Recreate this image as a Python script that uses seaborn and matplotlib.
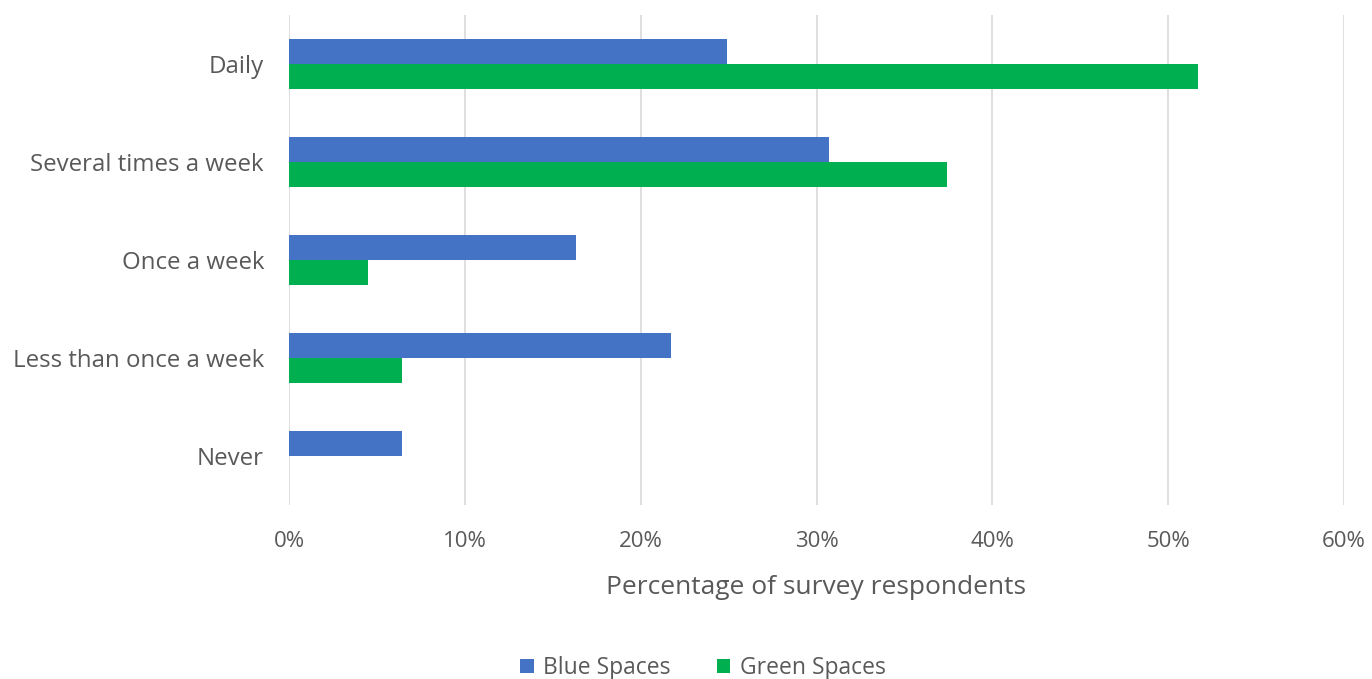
import matplotlib
matplotlib.use("Agg")
import matplotlib.pyplot as plt
import seaborn as sns
import pandas as pd
from matplotlib.ticker import FuncFormatter

categories = ["Daily", "Several times a week", "Once a week", "Less than once a week", "Never"]
blue_spaces = [24.9, 30.7, 16.3, 21.7, 6.4]
green_spaces = [51.7, 37.4, 4.5, 6.4, 0.0]
series_names = ["Blue Spaces", "Green Spaces"]
colors = ["#4472C4", "#00B050"]

rows = []
for c, b, g in zip(categories, blue_spaces, green_spaces):
    rows.append({"Frequency": c, "Series": series_names[0], "Value": b})
    rows.append({"Frequency": c, "Series": series_names[1], "Value": g})
df = pd.DataFrame(rows)

sns.set_theme(style="white")
plt.rcParams['font.family'] = ['Open Sans', 'DejaVu Sans']
text_color = "#595959"

fig = plt.figure(figsize=(13.72, 6.79), dpi=100)
ax = fig.add_axes([289/1372, 1 - 505/679, (1344-289)/1372, (505-15)/679])

sns.barplot(data=df, y="Frequency", x="Value", hue="Series", order=categories,
            hue_order=series_names, palette=colors, orient="h", width=0.52,
            gap=0, saturation=1, ax=ax, legend=True)

ax.set_xlim(0, 60)
ax.set_xticks(range(0, 61, 10))
ax.xaxis.set_major_formatter(FuncFormatter(lambda v, p: f"{int(v)}%"))
ax.grid(axis="x", color="#D9D9D9", linewidth=1.2)
ax.set_axisbelow(True)
for s in ax.spines.values():
    s.set_visible(False)
ax.tick_params(axis="both", length=0, colors=text_color)
ax.tick_params(axis="x", pad=19, labelsize=16)
ax.tick_params(axis="y", pad=18, labelsize=17.3)
ax.set_ylabel("")
ax.set_xlabel("Percentage of survey respondents", fontsize=19, color=text_color, labelpad=16)

for p in ax.patches:
    p.set_edgecolor("none")

handles, labels = ax.get_legend_handles_labels()
ax.legend_.remove()
fig.legend(handles, labels, loc="center", bbox_to_anchor=(703/1372, 1 - 668/679), ncol=2,
           frameon=False, fontsize=16.5, handlelength=0.6, handleheight=0.6,
           columnspacing=2.0, handletextpad=0.4, labelcolor=text_color)

fig.savefig("out.png", dpi=100)
